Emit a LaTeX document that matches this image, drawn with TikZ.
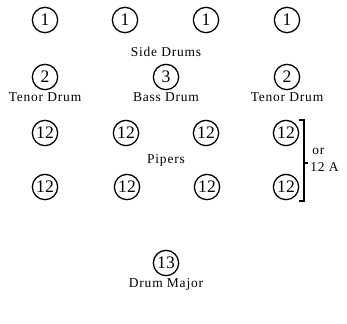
\documentclass[tikz,border=0pt]{standalone}
\usepackage{tikz}
\usetikzlibrary{positioning}
\usepackage{fontspec}
\setmainfont{Liberation Serif}
\tikzset{
  man/.style={draw, circle, line width=1.1pt, minimum size=7.6mm, inner sep=0pt,
    font=\fontsize{15}{15}\selectfont},
  lbl/.style={font=\fontsize{11.5}{12}\selectfont\addfontfeature{LetterSpace=6}, inner sep=1pt},
  brk/.style={line width=0.9pt},
}

\begin{document}
\begin{tikzpicture}[x=0.03cm, y=-0.03cm]
  \useasboundingbox (0,0) rectangle (347,323);
  % side drums
  \node[man] (s1) at (45,20) {1};
  \node[man] (s2) at (125,20) {1};
  \node[man] (s3) at (206,20) {1};
  \node[man] (s4) at (287,20) {1};
  \node[lbl] (sd) at (166,52) {Side Drums};
  % tenor and bass drums
  \node[man] (t1) at (45,77) {2};
  \node[man] (bd) at (166,77) {3};
  \node[man] (t2) at (287,77) {2};
  \node[lbl, below=1pt of t1] (t1l) {Tenor Drum};
  \node[lbl, below=1pt of bd] (bdl) {Bass Drum};
  \node[lbl, below=1pt of t2] (t2l) {Tenor Drum};
  % pipers
  \node[man] (p1) at (45,133) {12};
  \node[man] (p2) at (126,133) {12};
  \node[man] (p3) at (206,133) {12};
  \node[man] (p4) at (286,133) {12};
  \node[man] (p5) at (45,187) {12};
  \node[man] (p6) at (127,187) {12};
  \node[man] (p7) at (207,187) {12};
  \node[man] (p8) at (286,187) {12};
  \node[lbl] (pp) at (166,160) {Pipers};
  % bracket
  \coordinate (bt) at (304,120);
  \coordinate (bb) at (304,201);
  \coordinate (bm) at (304,163);
  \draw[brk] ([xshift=-4pt]bt) -- (bt) -- (bb) -- ([xshift=-4pt]bb);
  \draw[brk] (bm) -- ([xshift=3pt]bm);
  \node[lbl, anchor=west] (or) at (311,151) {or};
  \node[lbl, anchor=west] (alt) at (309,167) {12 A};
  % drum major
  \node[man] (dm) at (166,263) {13};
  \node[lbl, below=1pt of dm] (dml) {Drum Major};
\end{tikzpicture}
\end{document}
